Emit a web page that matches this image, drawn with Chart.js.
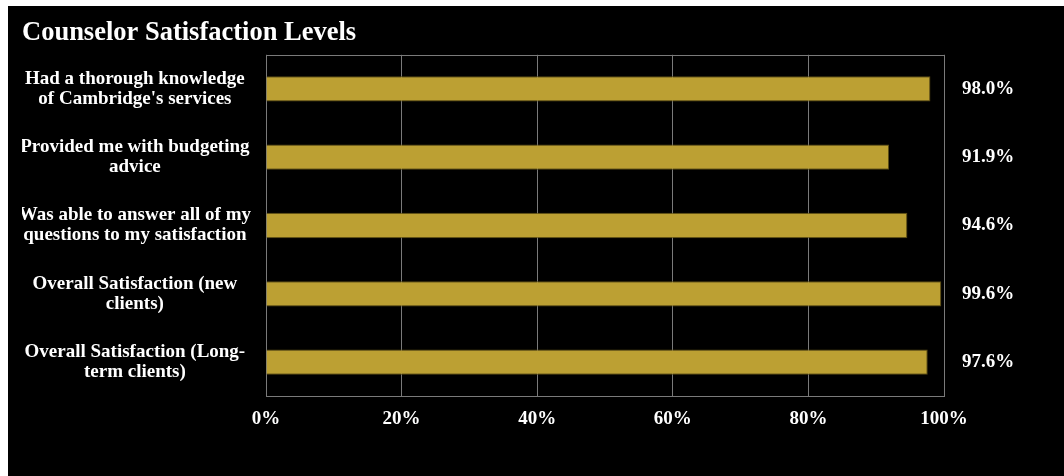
<!DOCTYPE html>
<html>
<head>
<meta charset="utf-8">
<script src="https://cdn.jsdelivr.net/npm/chart.js@4"></script>
<style>
  html, body { margin: 0; padding: 0; background: #fff; }
  /* black panel sits just inside the page, leaving a thin white edge top/left */
  #wrap { position: absolute; left: 8px; top: 6px; width: 1056px; height: 470px; background: #000; }
</style>
</head>
<body>
<div id="wrap"><canvas id="chart-0"></canvas></div>
<script>
// survey items, top to bottom (multi-line labels as arrays)
var categories = [
  ["Had a thorough knowledge", "of Cambridge's services"],
  ["Provided me with budgeting", "advice"],
  ["Was able to answer all of my", "questions to my satisfaction"],
  ["Overall Satisfaction (new", "clients)"],
  ["Overall Satisfaction (Long-", "term clients)"]
];
var satisfaction = [98.0, 91.9, 94.6, 99.6, 97.6]; // percent satisfied
var xTicks = [0, 20, 40, 60, 80, 100];

var serif = "'Liberation Serif', 'Times New Roman', serif";
var gold = '#BCA033';
var gridGray = '#7a7a7a';

// outline around the plot area (top and right edges aren't drawn by the axes)
var plotFrame = {
  id: 'plotFrame',
  beforeDatasetsDraw: function(chart) {
    var a = chart.chartArea, ctx = chart.ctx;
    ctx.save();
    ctx.strokeStyle = gridGray;
    ctx.lineWidth = 1;
    ctx.strokeRect(Math.round(a.left) + 0.5, Math.round(a.top) + 0.5,
                   Math.round(a.right - a.left), Math.round(a.bottom - a.top));
    ctx.restore();
  }
};

// value labels sit in a column to the right of the plot
var valueLabels = {
  id: 'valueLabels',
  afterDatasetsDraw: function(chart) {
    var ctx = chart.ctx, meta = chart.getDatasetMeta(0);
    ctx.save();
    ctx.font = 'bold 19px ' + serif;
    ctx.fillStyle = '#fff';
    ctx.textAlign = 'center';
    ctx.textBaseline = 'middle';
    meta.data.forEach(function(bar, i) {
      ctx.fillText(satisfaction[i].toFixed(1) + '%', chart.chartArea.right + 44, bar.y);
    });
    ctx.restore();
  }
};

new Chart(document.getElementById('chart-0'), {
  type: 'bar',
  data: {
    labels: categories,
    datasets: [{
      data: satisfaction,
      backgroundColor: gold,
      borderColor: '#5a4b14',
      borderWidth: 1,
      barPercentage: 0.37,
      categoryPercentage: 1
    }]
  },
  options: {
    indexAxis: 'y',
    responsive: true,
    maintainAspectRatio: false,
    animation: false,
    layout: { padding: { left: 14, right: 120, top: 0, bottom: 35 } },
    plugins: {
      legend: { display: false },
      tooltip: { enabled: false },
      title: {
        display: true,
        text: 'Counselor Satisfaction Levels',
        align: 'start',
        color: '#fff',
        font: { family: serif, size: 26.5, weight: 'bold' },
        padding: { top: 11, bottom: 6 }
      }
    },
    scales: {
      x: {
        min: 0,
        max: 100,
        afterBuildTicks: function(scale) {
          scale.ticks = xTicks.map(function(v) { return { value: v }; });
        },
        grid: { color: gridGray, drawTicks: false },
        border: { display: false },
        ticks: {
          color: '#fff',
          padding: 11,
          font: { family: serif, size: 19, weight: 'bold' },
          callback: function(v) { return v + '%'; }
        }
      },
      y: {
        afterFit: function(scale) { scale.width = 244; },
        grid: { display: false, drawTicks: false },
        border: { display: false },
        ticks: {
          color: '#fff',
          crossAlign: 'center',
          padding: 15,
          font: { family: serif, size: 19, weight: 'bold', lineHeight: 1.05 }
        }
      }
    }
  },
  plugins: [plotFrame, valueLabels]
});
</script>
</body>
</html>
